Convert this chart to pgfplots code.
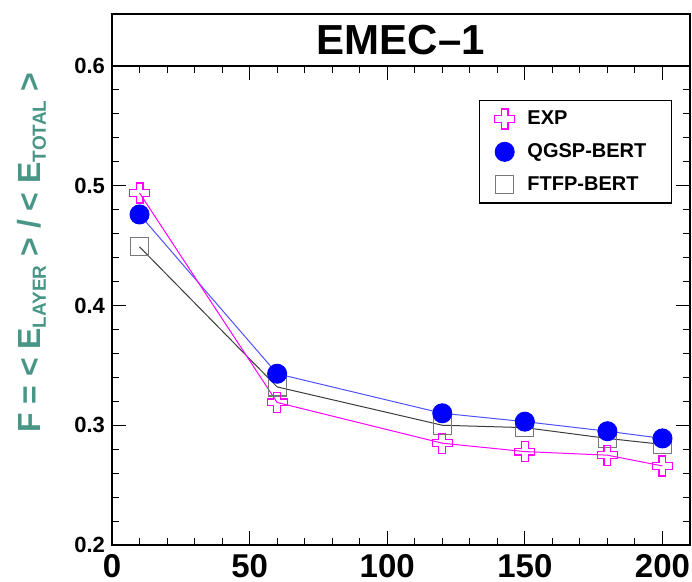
\documentclass[border=0pt]{standalone}
\usepackage{fontspec}
\setmainfont{Liberation Sans}
\usepackage{pgfplots}
\pgfplotsset{compat=1.18}
\definecolor{expmag}{RGB}{255,0,255}
\definecolor{qgspblue}{RGB}{0,0,255}
\definecolor{qgspline}{RGB}{80,80,255}
\definecolor{ftfpgray}{RGB}{60,60,60}
\definecolor{ftfpmark}{RGB}{120,120,120}
\definecolor{labteal}{RGB}{72,150,134}

% open cross marker (ROOT style 28)
\pgfdeclareplotmark{ocross}{%
  \pgfpathmoveto{\pgfqpoint{-0.34\pgfplotmarksize}{\pgfplotmarksize}}%
  \pgfpathlineto{\pgfqpoint{0.34\pgfplotmarksize}{\pgfplotmarksize}}%
  \pgfpathlineto{\pgfqpoint{0.34\pgfplotmarksize}{0.34\pgfplotmarksize}}%
  \pgfpathlineto{\pgfqpoint{\pgfplotmarksize}{0.34\pgfplotmarksize}}%
  \pgfpathlineto{\pgfqpoint{\pgfplotmarksize}{-0.34\pgfplotmarksize}}%
  \pgfpathlineto{\pgfqpoint{0.34\pgfplotmarksize}{-0.34\pgfplotmarksize}}%
  \pgfpathlineto{\pgfqpoint{0.34\pgfplotmarksize}{-\pgfplotmarksize}}%
  \pgfpathlineto{\pgfqpoint{-0.34\pgfplotmarksize}{-\pgfplotmarksize}}%
  \pgfpathlineto{\pgfqpoint{-0.34\pgfplotmarksize}{-0.34\pgfplotmarksize}}%
  \pgfpathlineto{\pgfqpoint{-\pgfplotmarksize}{-0.34\pgfplotmarksize}}%
  \pgfpathlineto{\pgfqpoint{-\pgfplotmarksize}{0.34\pgfplotmarksize}}%
  \pgfpathlineto{\pgfqpoint{-0.34\pgfplotmarksize}{0.34\pgfplotmarksize}}%
  \pgfpathclose
  \pgfusepathqstroke}

\begin{document}
\begin{tikzpicture}
\path[use as bounding box] (-56pt,-18.5pt) rectangle (290pt,272.5pt);
\begin{axis}[
  scale only axis,
  width=289pt, height=239.5pt,
  xmin=0, xmax=210, ymin=0.2, ymax=0.6,
  xtick={0,50,100,150,200},
  ytick={0.2,0.3,0.4,0.5,0.6},
  minor x tick num=4, minor y tick num=4,
  tick align=inside,
  major tick length=7pt, minor tick length=3.5pt,
  tick style={black, line width=0.5pt},
  axis line style={line width=0.6pt},
  clip=false,
  /pgf/number format/assume math mode=true,
  xticklabel style={font=\bfseries\fontsize{16.5}{16.5}\selectfont, yshift=-1pt},
  yticklabel style={font=\bfseries\fontsize{11}{11}\selectfont,
    /pgf/number format/.cd, fixed, fixed zerofill, precision=1},
  ylabel={\color{labteal}\bfseries F = < E\raisebox{-2.5pt}{\fontsize{9.5}{9.5}\selectfont LAYER} > / < E\raisebox{-2.5pt}{\fontsize{9.5}{9.5}\selectfont TOTAL} >},
  ylabel style={font=\fontsize{16}{16}\selectfont, at={(rel axis cs:-0.123,1)}, anchor=base east},
  reverse legend,
  legend style={at={(rel axis cs:0.969,0.929)}, anchor=north east,
    draw=black, line width=0.6pt, fill=white,
    font=\bfseries\fontsize{10}{10}\selectfont,
    inner xsep=4pt, inner ysep=3pt, row sep=4pt,
    cells={text width=66pt}},
  legend cell align=left,
  legend image code/.code={\path[draw=none,fill=none] (0cm,0cm) -- (0.63cm,0cm);
    \draw[only marks,#1] plot coordinates {(0.3cm,0cm)};},
]
\addplot[ftfpgray, line width=0.5pt, mark=square, mark size=4.5pt,
  mark options={draw=ftfpmark, line width=0.6pt}]
  coordinates {(10,0.449)(60,0.332)(120,0.300)(150,0.298)(180,0.289)(200,0.284)};
\addlegendentry{FTFP-BERT}
\addplot[qgspline, line width=0.5pt, mark=*, mark size=4.75pt,
  mark options={draw=qgspblue, fill=qgspblue}]
  coordinates {(10,0.476)(60,0.343)(120,0.310)(150,0.303)(180,0.295)(200,0.289)};
\addlegendentry{QGSP-BERT}
\addplot[expmag, line width=0.5pt, mark=ocross, mark size=5pt,
  mark options={draw=expmag, line width=0.6pt}]
  coordinates {(10,0.494)(60,0.319)(120,0.285)(150,0.278)(180,0.275)(200,0.266)};
\addlegendentry{EXP}
\draw[line width=0.6pt] (rel axis cs:0,1) rectangle (rel axis cs:1,1.1086);
\node[font=\bfseries\fontsize{21}{21}\selectfont] at (rel axis cs:0.5,1.054) {EMEC–1};
\end{axis}
\end{tikzpicture}
\end{document}
